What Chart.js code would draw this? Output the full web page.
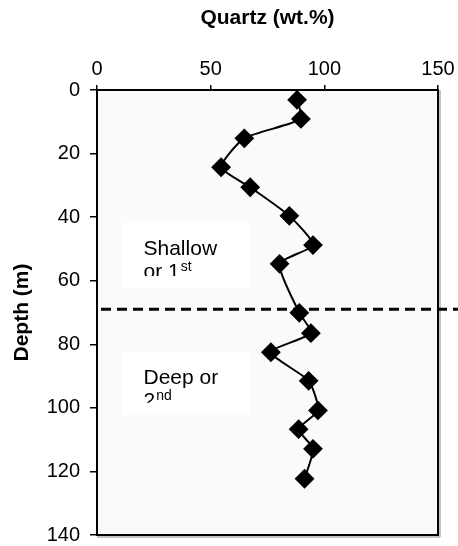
<!DOCTYPE html>
<html>
<head>
<meta charset="utf-8">
<script src="https://cdn.jsdelivr.net/npm/chart.js@4"></script>
<style>
  html, body { margin: 0; padding: 0; background: #fff; }
  canvas { display: block; }
</style>
</head>
<body>
<canvas id="chart1" width="458" height="546"></canvas>
<script>
const quartz = [88.0, 89.7, 64.8, 54.6, 67.4, 84.6, 95.0, 80.3, 89.0, 94.1, 76.5, 93.1, 97.2, 88.7, 95.0, 91.3];
const depth = [3.1, 9.1, 15.2, 24.3, 30.6, 39.6, 48.8, 54.7, 70.1, 76.5, 82.5, 91.5, 100.8, 106.7, 112.9, 122.3];
const boundaryDepth = 69;
const zoneLabels = [
    { line1: 'Shallow', line2: 'or 1', sup: 'st', top: 41.8, bottom: 62.3 },
    { line1: 'Deep or', line2: '2', sup: 'nd', top: 82.3, bottom: 102.2 }
];

const FONT = '"Liberation Sans", Arial, sans-serif';

const extras = {
    id: 'extras',
    beforeDatasetsDraw(chart) {
        const ctx = chart.ctx;
        const xs = chart.scales.x;
        const ys = chart.scales.y;
        ctx.save();
        // text boxes
        zoneLabels.forEach(z => {
            const bx = xs.getPixelForValue(11);
            const bx2 = xs.getPixelForValue(67.5);
            const by = ys.getPixelForValue(z.top);
            const by2 = ys.getPixelForValue(z.bottom);
            ctx.fillStyle = '#ffffff';
            ctx.fillRect(bx, by, bx2 - bx, by2 - by);
            ctx.save();
            ctx.beginPath();
            ctx.rect(bx, by, bx2 - bx, by2 - by - 12);
            ctx.clip();
            ctx.fillStyle = '#000';
            ctx.textBaseline = 'alphabetic';
            ctx.textAlign = 'left';
            ctx.font = '21px ' + FONT;
            const tx = bx + 21.5;
            ctx.fillText(z.line1, tx, by + 32);
            ctx.fillText(z.line2, tx, by + 55);
            const w = ctx.measureText(z.line2).width;
            ctx.font = '14px ' + FONT;
            ctx.fillText(z.sup, tx + w + 1, by + 48);
            ctx.restore();
        });
        ctx.restore();
    },
    afterDatasetsDraw(chart) {
        const ctx = chart.ctx;
        const a = chart.chartArea;
        const ys = chart.scales.y;
        ctx.save();
        // frame
        ctx.strokeStyle = '#888';
        ctx.lineWidth = 1;
        ctx.beginPath();
        ctx.moveTo(a.right + 2, a.top);
        ctx.lineTo(a.right + 2, a.bottom + 2);
        ctx.lineTo(a.left, a.bottom + 2);
        ctx.stroke();
        ctx.strokeStyle = '#000';
        ctx.lineWidth = 2;
        ctx.strokeRect(a.left, a.top, a.right - a.left, a.bottom - a.top);
        // boundary dashed line
        const y = ys.getPixelForValue(boundaryDepth);
        ctx.setLineDash([10, 6]);
        ctx.lineWidth = 3;
        ctx.beginPath();
        ctx.moveTo(a.left + 4, y);
        ctx.lineTo(chart.width, y);
        ctx.stroke();
        ctx.restore();
    },
    beforeDraw(chart) {
        const ctx = chart.ctx;
        const a = chart.chartArea;
        ctx.save();
        ctx.fillStyle = '#fafafa';
        ctx.fillRect(a.left, a.top, a.right - a.left, a.bottom - a.top);
        ctx.restore();
    }
};

const ctx1 = document.getElementById('chart1').getContext('2d');
const chart1 = new Chart(ctx1, {
    type: 'scatter',
    data: {
        datasets: [{
            label: 'Quartz',
            data: quartz.map((q, i) => ({ x: q, y: depth[i] })),
            showLine: true,
            tension: 0.2,
            borderColor: '#000',
            borderWidth: 2,
            backgroundColor: '#000',
            pointStyle: 'rectRot',
            pointRadius: 8.5,
            pointHoverRadius: 8.5
        }]
    },
    options: {
        responsive: false,
        animation: false,
        devicePixelRatio: 1,
        layout: { padding: { left: 0, top: 0, right: 20, bottom: 11 } },
        plugins: {
            legend: { display: false },
            tooltip: { enabled: false }
        },
        scales: {
            x: {
                type: 'linear',
                position: 'top',
                min: 0,
                max: 150,
                ticks: { stepSize: 50, color: '#000', padding: 4, font: { size: 20, family: FONT } },
                grid: { drawOnChartArea: false, color: '#000', lineWidth: 1.5, tickLength: 5 },
                border: { display: false },
                title: {
                    display: true,
                    text: 'Quartz (wt.%)',
                    color: '#000',
                    font: { size: 21, weight: 'bold', family: FONT },
                    padding: { top: 6, bottom: 0 }
                },
                afterFit(scale) { scale.height = 90; scale.paddingLeft = 0; scale.paddingRight = 0; }
            },
            y: {
                type: 'linear',
                reverse: true,
                min: 0,
                max: 140,
                ticks: { stepSize: 20, color: '#000', padding: 10, font: { size: 20, family: FONT } },
                grid: { drawOnChartArea: false, color: '#000', lineWidth: 1.5, tickLength: 7 },
                border: { display: false },
                title: {
                    display: true,
                    text: 'Depth (m)',
                    color: '#000',
                    font: { size: 21, weight: 'bold', family: FONT },
                    padding: { top: 10, bottom: 0 }
                },
                afterFit(scale) { scale.width = 97; scale.paddingTop = 0; scale.paddingBottom = 0; }
            }
        }
    },
    plugins: [extras]
});
</script>
</body>
</html>
